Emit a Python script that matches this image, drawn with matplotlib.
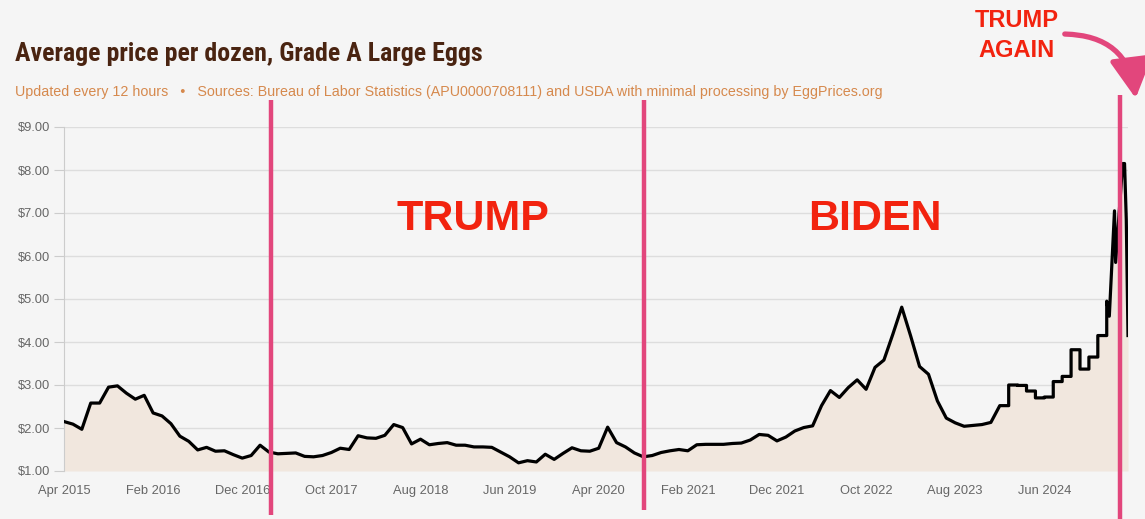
import numpy as np
import pandas as pd
import matplotlib
matplotlib.use("Agg")
import matplotlib.pyplot as plt
from matplotlib import font_manager
from matplotlib.patches import FancyArrowPatch
from matplotlib.transforms import blended_transform_factory

# monthly average price per dozen, Apr 2015 - Dec 2024
months = pd.period_range("2015-04", "2024-12", freq="M")
prices = [2.15, 2.09, 1.97, 2.58, 2.58, 2.95, 2.98, 2.81, 2.67, 2.76,
          2.35, 2.28, 2.10, 1.81, 1.69, 1.49, 1.55, 1.46, 1.47, 1.38,
          1.30, 1.36, 1.60, 1.44, 1.40, 1.41, 1.42, 1.34, 1.33, 1.36,
          1.43, 1.53, 1.50, 1.82, 1.77, 1.76, 1.83, 2.08, 2.01, 1.63,
          1.74, 1.61, 1.64, 1.66, 1.60, 1.60, 1.56, 1.56, 1.55, 1.44,
          1.33, 1.19, 1.24, 1.21, 1.39, 1.27, 1.41, 1.54, 1.47, 1.46,
          1.53, 2.02, 1.66, 1.56, 1.42, 1.33, 1.36, 1.43, 1.47, 1.50,
          1.47, 1.61, 1.62, 1.62, 1.62, 1.64, 1.65, 1.72, 1.85, 1.83,
          1.70, 1.79, 1.93, 2.01, 2.05, 2.52, 2.87, 2.71, 2.94, 3.12,
          2.90, 3.41, 3.58, 4.18, 4.81, 4.14, 3.43, 3.25, 2.63, 2.23,
          2.12, 2.04, 2.06, 2.08, 2.13, 2.52, 3.00, 2.99, 2.86, 2.70,
          2.72, 3.08, 3.20, 3.82, 3.37, 3.65, 4.15]
# from here on the chart draws each month as a flat step
step_from = pd.Period("2024-01", freq="M")

# finer (USDA) points for 2025
recent_dates = ["2025-01-01", "2025-01-10", "2025-01-28", "2025-02-01",
                "2025-02-23", "2025-03-01", "2025-03-07", "2025-03-13"]
recent_prices = [4.95, 4.60, 7.05, 5.85, 8.15, 8.15, 6.85, 4.15]

tick_labels = ["Apr 2015", "Feb 2016", "Dec 2016", "Oct 2017", "Aug 2018", "Jun 2019",
               "Apr 2020", "Feb 2021", "Dec 2021", "Oct 2022", "Aug 2023", "Jun 2024"]
y_ticks = [1, 2, 3, 4, 5, 6, 7, 8, 9]

# hand drawn markers: (date, top px, bottom px)
term_marks = [("2017-03-07", 100, 515), ("2020-09-03", 100, 510), ("2025-02-16", 95, 519)]
term_names = [("TRUMP", 473), ("BIDEN", 875)]

title = "Average price per dozen, Grade A Large Eggs"
subtitle = ("Updated every 12 hours   \u2022   Sources: Bureau of Labor Statistics "
            "(APU0000708111) and USDA with minimal processing by EggPrices.org")

W, H = 1145, 519
bg = "#f5f5f5"
pink = "#e2467c"
red = "#f2230f"

names = {f.name for f in font_manager.fontManager.ttflist}
narrow = "DejaVu Sans"
for cand in ["Liberation Sans Narrow", "Roboto Condensed", "Open Sans Condensed", "Roboto"]:
    if cand in names:
        narrow = cand
        break
sans = "Liberation Sans" if "Liberation Sans" in names else "DejaVu Sans"


def month_pos(d):
    d = pd.Timestamp(d)
    return (d.year - 2015) * 12 + d.month - 4 + (d.day - 1) / d.days_in_month


def fit_width(t, px):
    r = fig.canvas.get_renderer()
    w = t.get_window_extent(r).width
    t.set_fontsize(t.get_fontsize() * px / w)


x, y = [], []
for per, p in zip(months, prices):
    k = (per.year - 2015) * 12 + per.month - 4
    if per < step_from:
        x.append(k)
        y.append(p)
    else:
        x += [k, k + 1]
        y += [p, p]
for d, p in zip(recent_dates, recent_prices):
    x.append(month_pos(d))
    y.append(p)

fig = plt.figure(figsize=(W / 100, H / 100), dpi=100, facecolor=bg)
ax = fig.add_axes([64 / W, 1 - 471 / H, (1128 - 64) / W, (471 - 127) / H], facecolor=bg)
ax.set_axisbelow(True)

ax.fill_between(x, 1, y, color="#f1e7de", lw=0)
ax.plot(x, y, color="black", lw=2.3, solid_joinstyle="round", zorder=3)

ax.set_xlim(0, x[-1])
ax.set_ylim(1, 9)
ax.set_yticks(y_ticks)
ax.set_yticklabels(["${:.2f}".format(v) for v in y_ticks])
ax.set_xticks(range(0, 10 * len(tick_labels), 10))
ax.set_xticklabels(tick_labels)
ax.grid(axis="y", color="#dddddd", lw=1)
for s in ["top", "right", "bottom"]:
    ax.spines[s].set_visible(False)
ax.spines["left"].set_color("#cccccc")
ax.tick_params(axis="y", length=7, color="#cccccc", labelcolor="#666666",
               labelsize=9.3, pad=3)
ax.tick_params(axis="x", length=0, labelcolor="#666666", labelsize=9.3, pad=10)
for lab in ax.get_xticklabels() + ax.get_yticklabels():
    lab.set_family(sans)

# pink term lines, running past the plot area
trans = blended_transform_factory(ax.transData, fig.transFigure)
for d, top, bottom in term_marks:
    m = month_pos(d)
    ax.plot([m, m], [1 - top / H, 1 - bottom / H], transform=trans, clip_on=False,
            color=pink, lw=3.2, zorder=6, solid_capstyle="butt")

for name, cx in term_names:
    fig.text(cx / W, 1 - 230 / H, name, ha="center", va="baseline", color=red,
             fontsize=31, weight="heavy", family=sans)
fig.text(1017 / W, 1 - 27 / H, "TRUMP", ha="center", va="baseline", color=red,
         fontsize=17, weight="heavy", family=sans)
fig.text(1017 / W, 1 - 57 / H, "AGAIN", ha="center", va="baseline", color=red,
         fontsize=17, weight="heavy", family=sans)

arrow = FancyArrowPatch((1062 / W, 1 - 34 / H), (1136 / W, 1 - 101 / H),
                        transform=fig.transFigure,
                        connectionstyle="arc3,rad=-0.45",
                        arrowstyle="-|>,head_length=1.2,head_width=0.65",
                        mutation_scale=20, lw=3.8, color=pink)
fig.add_artist(arrow)

t_title = fig.text(15 / W, 1 - 61 / H, title, ha="left", va="baseline", color="#4a2411",
                   fontsize=18, weight="heavy", family=narrow)
t_sub = fig.text(15 / W, 1 - 96 / H, subtitle, ha="left", va="baseline", color="#d6894d",
                 fontsize=10, family=sans)
fig.canvas.draw()
fit_width(t_title, 469)
fit_width(t_sub, 862)

fig.savefig("out.png", dpi=100, facecolor=bg)
